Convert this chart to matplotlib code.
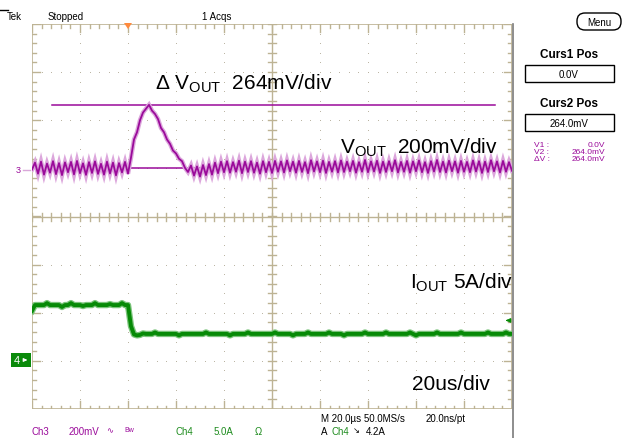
import numpy as np
import matplotlib
matplotlib.use("Agg")
import matplotlib.pyplot as plt
from matplotlib.patches import FancyBboxPatch, Rectangle, Polygon

plt.rcParams['font.family'] = ['Liberation Sans', 'DejaVu Sans']
plt.rcParams['mathtext.fontset'] = 'custom'
plt.rcParams['mathtext.rm'] = 'Liberation Sans'
plt.rcParams['mathtext.it'] = 'Liberation Sans'

W, H = 625, 439

# scope settings
time_per_div = 20.0      # us
ch3_scale = 200.0        # mV/div
ch3_offset = 1.0         # div above centre
ch4_scale = 5.0          # A/div
ch4_offset = -3.0        # div
sample_step = 1.25       # us between listed samples
cursor1_mv = 0.0
cursor2_mv = 264.0
trigger_level = 4.2      # A
trigger_time = 40.0      # us

# Ch3: output voltage (mV)
vout_mv = [
    -5, 24, -22, 28, -26, 20, -18, 30, -24, 22, -28, 25, -16, 27, -25, 31,
    -20, 21, -27, 26, -19, 29, -23, 19, -26, 28, -21, 24, -29, 22, -17, 27, -22,
    45, 120, 150, 200, 232, 248, 264, 240, 226, 205, 168, 150, 120, 102, 74, 62,
    40, 30, 2, -15,
    12, -30, 8, -34, 14, -28, 18, -26, 24, -20,
    28, -16, 30, -18, 26, -14, 32, -20, 28, -15, 30, -18, 24, -22, 30, -16, 27, -19, 31, -14,
    29, -17, 33, -12, 28, -18, 31, -15, 26, -20, 34, -13, 29, -16, 32, -19, 27, -14, 30, -17,
    33, -15, 28, -12, 31, -18, 26, -14, 35, -16, 29, -13, 32, -19, 28, -15, 30, -12, 34, -17,
    27, -14, 31, -18, 29, -12, 33, -16, 26, -19, 30, -13, 35, -15, 28, -17, 32, -12, 29, -18,
    31, -14, 27, -16, 33, -13, 30, -19, 28, -15, 34, -12, 29, -17, 31, -14, 26, -10,
]

# Ch4: output current (A)
iout_a = [
    5.2, 5.8, 5.8, 5.8, 5.8, 6.0, 5.8, 5.8, 5.8, 5.8, 5.6, 5.8, 5.8, 6.0, 5.8, 5.8,
    5.8, 5.7, 5.8, 5.8, 5.8, 6.0, 5.8, 5.8, 5.8, 5.8, 5.9, 5.8, 5.8, 5.8, 6.0, 5.8, 5.8,
    3.6, 2.75, 2.65, 2.7, 2.85, 2.8, 2.8, 2.8, 2.95, 2.8, 2.8, 2.8, 2.8, 2.8, 2.8, 2.8,
    2.65, 2.8, 2.8, 2.8,
    2.8, 2.8, 2.8, 2.8, 2.8, 2.95, 2.8, 2.8, 2.8, 2.8, 2.8, 2.8, 2.8, 2.65, 2.8, 2.8,
    2.8, 2.8, 2.8, 2.95, 2.8, 2.8, 2.8, 2.8, 2.8, 2.8, 2.8, 2.8, 2.95, 2.8, 2.8, 2.8,
    2.8, 2.8, 2.65, 2.8, 2.8, 2.8, 2.8, 2.95, 2.8, 2.8, 2.8, 2.8, 2.8, 2.8, 2.95, 2.8,
    2.8, 2.8, 2.8, 2.65, 2.8, 2.8, 2.8, 2.8, 2.8, 2.8, 2.95, 2.8, 2.8, 2.8, 2.8, 2.8,
    2.8, 2.95, 2.8, 2.8, 2.8, 2.8, 2.8, 2.8, 2.8, 2.95, 2.8, 2.65, 2.8, 2.8, 2.8, 2.8,
    2.8, 2.8, 2.95, 2.8, 2.8, 2.8, 2.8, 2.8, 2.8, 2.8, 2.95, 2.8, 2.8, 2.8, 2.8, 2.8,
    2.8, 2.8, 2.8, 2.95, 2.8, 2.8, 2.8, 2.8, 2.8, 2.95, 2.8, 2.8, 2.8,
]

t = np.arange(len(vout_mv)) * sample_step
t_i = np.arange(len(iout_a)) * sample_step

fig = plt.figure(figsize=(W / 100, H / 100), dpi=100)
fig.patch.set_facecolor('white')


def fx(x):
    return x / W


def fy(y):
    return 1 - y / H


# graticule area: 10 x 8 divisions
ax = fig.add_axes([fx(32), fy(410), 480 / W, 385 / H])
ax.set_xlim(0, 10 * time_per_div)
ax.set_ylim(-4, 4)
ax.axis('off')

grat = '#bdb394'
px_x = 10 * time_per_div / 480   # us per pixel
px_y = 8 / 385                   # div per pixel

# dotted division lines
for k in range(1, 10):
    if k == 5:
        continue
    ys = np.arange(-4, 4.01, 0.2)[1:-1]
    ax.scatter(np.full(len(ys), k * time_per_div), ys, s=0.5, color='#b8b2a0', lw=0)
for m in [-3, -2, -1, 1, 2, 3]:
    xs = np.arange(0, 10 * time_per_div + 0.1, time_per_div / 5)[1:-1]
    ax.scatter(xs, np.full(len(xs), m), s=0.5, color='#b8b2a0', lw=0)

# centre cross with tick marks
xc = 5 * time_per_div
ax.plot([0, 10 * time_per_div], [0, 0], color=grat, lw=1)
ax.plot([xc, xc], [-4, 4], color=grat, lw=1)
for xt in np.arange(0, 10 * time_per_div + 0.1, time_per_div / 5):
    ax.plot([xt, xt], [-4 * px_y, 4 * px_y], color=grat, lw=1)
for yt in np.arange(-4, 4.01, 0.2):
    ax.plot([xc - 4 * px_x, xc + 4 * px_x], [yt, yt], color=grat, lw=1)

# frame with inward ticks
ax.plot([0, 10 * time_per_div, 10 * time_per_div, 0, 0], [4, 4, -4, -4, 4], color=grat, lw=1.2)
for i, xt in enumerate(np.arange(0, 10 * time_per_div + 0.1, time_per_div / 5)):
    L = 8 if i % 5 == 0 else 3.5
    ax.plot([xt, xt], [4, 4 - L * px_y], color=grat, lw=1)
    ax.plot([xt, xt], [-4, -4 + L * px_y], color=grat, lw=1)
for i, yt in enumerate(np.arange(-4, 4.01, 0.2)):
    L = 8 if i % 5 == 0 else 4
    ax.plot([0, L * px_x], [yt, yt], color=grat, lw=1)
    ax.plot([10 * time_per_div, 10 * time_per_div - L * px_x], [yt, yt], color=grat, lw=1)

# cursors
purple = '#9a0a9a'
c_lo, c_hi = 20 * px_x, 463 * px_x
for mv in (cursor1_mv, cursor2_mv):
    ax.plot([c_lo, c_hi], [mv / ch3_scale + ch3_offset] * 2, color=purple, lw=1.1)

# traces
v_div = np.array(vout_mv) / ch3_scale + ch3_offset
i_div = np.array(iout_a) / ch4_scale + ch4_offset
ax.plot(t, v_div, color='#dca6dc', lw=3.2, solid_joinstyle='miter')
ax.plot(t, v_div, color=purple, lw=1.3)
ax.plot(t_i, i_div, color='#7cc47c', lw=4.6)
ax.plot(t_i, i_div, color='#078a07', lw=2.8)

# trigger level marker on the right
ty = trigger_level / ch4_scale + ch4_offset
ax.annotate('', xy=(10 * time_per_div - 9 * px_x, ty), xytext=(10 * time_per_div - 1 * px_x, ty),
            arrowprops=dict(arrowstyle='-|>', color='#078a07', lw=1, mutation_scale=6),
            annotation_clip=False)

# overlay for labels outside the graticule
ov = fig.add_axes([0, 0, 1, 1])
ov.set_xlim(0, W)
ov.set_ylim(H, 0)
ov.axis('off')

# top status line
ov.plot([0, 8], [11, 11], color='black', lw=1)
ov.text(7, 17, 'Tek', fontsize=7, va='center')
ov.text(48, 17, 'Stopped', fontsize=7, va='center')
ov.text(202, 17, '1 Acqs', fontsize=7, va='center')
trig_x = 32 + trigger_time / px_x
ov.add_patch(Polygon([[trig_x - 4, 24], [trig_x + 4, 24], [trig_x, 30]], closed=True,
                     color='#ff8a3d', lw=0))

# separator on the right of the screen
ov.plot([513, 513], [25, 439], color='#7a7a7a', lw=1.2)

# channel ground markers
ov.text(18, 171, '3', fontsize=6.5, color=purple, va='center', ha='center')
ov.plot([23, 30], [171, 171], color='#d9a8d9', lw=1)
ov.add_patch(Rectangle((11, 354), 20, 14, color='#0a8a0a', lw=0))
ov.text(17, 361.5, '4', fontsize=8, color='white', va='center', ha='center')
ov.annotate('', xy=(30, 361), xytext=(22, 361),
            arrowprops=dict(arrowstyle='-|>', color='white', lw=0.8, mutation_scale=5))

# annotations on the screen
big = 15
ov.text(155, 84, r'$\Delta$ V$_{\mathrm{OUT}}$  264mV/div', fontsize=big, va='center')
ov.text(340, 148, r'V$_{\mathrm{OUT}}$  200mV/div', fontsize=big, va='center')
ov.text(410, 283, r'I$_{\mathrm{OUT}}$ 5A/div', fontsize=big, va='center')
ov.text(412, 385, '20us/div', fontsize=big, va='center')

# side menu
ov.add_patch(FancyBboxPatch((577, 14), 44, 17, boxstyle='round,pad=0,rounding_size=8',
                            fc='white', ec='black', lw=1))
ov.text(599, 22.5, 'Menu', fontsize=7, ha='center', va='center')
ov.text(569, 55, 'Curs1 Pos', fontsize=8.5, fontweight='bold', ha='center', va='center')
ov.add_patch(Rectangle((525, 66), 89, 17, fc='white', ec='black', lw=1))
ov.text(569, 75, '0.0V', fontsize=7, ha='center', va='center')
ov.text(569, 104, 'Curs2 Pos', fontsize=8.5, fontweight='bold', ha='center', va='center')
ov.add_patch(Rectangle((525, 115), 89, 17, fc='white', ec='black', lw=1))
ov.text(569, 124, '264.0mV', fontsize=7, ha='center', va='center')
for yy, lab, val in [(146, 'V1 :', '0.0V'), (153, 'V2 :', '264.0mV'), (160, '\u0394V :', '264.0mV')]:
    ov.text(534, yy, lab, fontsize=6, color=purple, va='center')
    ov.text(605, yy, val, fontsize=6, color=purple, va='center', ha='right')

# bottom status bar
green = '#1e8c1e'
ov.text(32, 432, 'Ch3', fontsize=7, color=purple, va='center')
ov.text(69, 432, '200mV', fontsize=7, color=purple, va='center')
ov.text(106, 432, '\u223f', fontsize=6, color=purple, va='center')
ov.text(124, 431, 'Bw', fontsize=5, color=purple, va='center')
ov.text(176, 432, 'Ch4', fontsize=7, color=green, va='center')
ov.text(214, 432, '5.0A', fontsize=7, color=green, va='center')
ov.text(255, 432, '\u03a9', fontsize=7, color=green, va='center')
ov.text(321, 419, 'M 20.0\u00b5s 50.0MS/s', fontsize=7, va='center')
ov.text(426, 419, '20.0ns/pt', fontsize=7, va='center')
ov.text(321, 432, 'A', fontsize=7, va='center')
ov.text(332, 432, 'Ch4', fontsize=7, color=green, va='center')
ov.text(353, 432, '\u2198', fontsize=6, va='center')
ov.text(366, 432, '4.2A', fontsize=7, va='center')

fig.savefig('out.png', dpi=100)
